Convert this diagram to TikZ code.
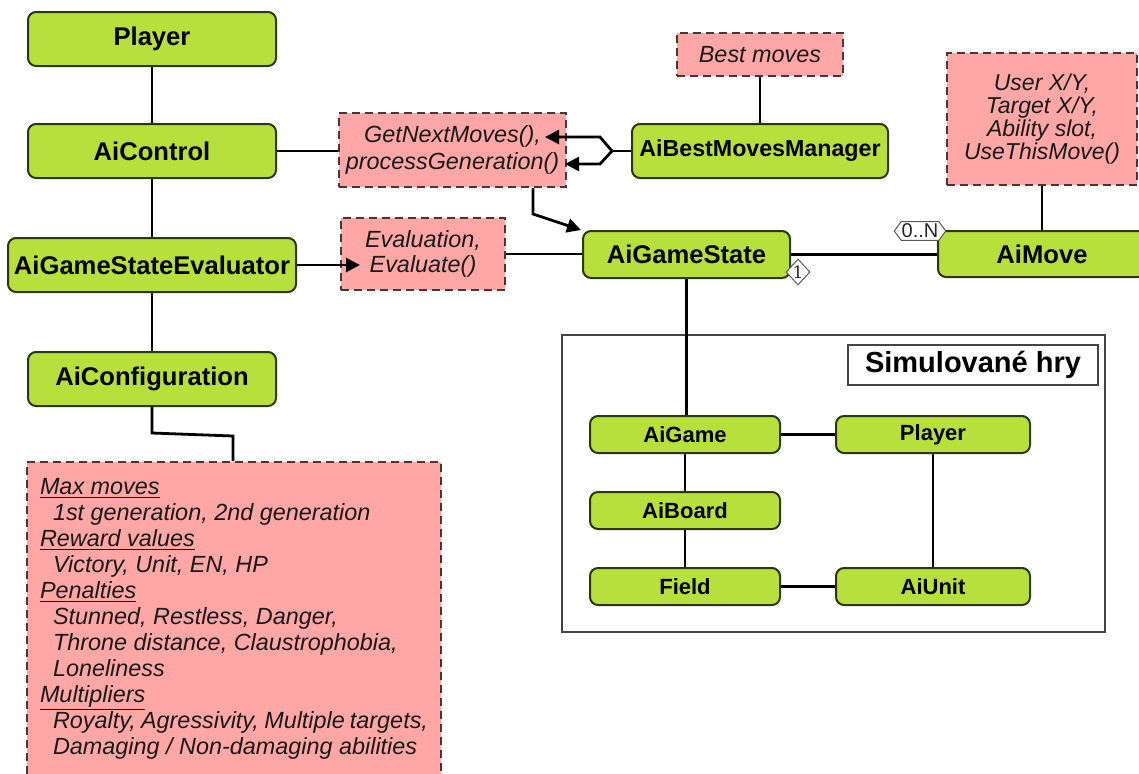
\documentclass[tikz,border=0pt]{standalone}
\usepackage{fontspec}
\setmainfont{Liberation Sans}
\newfontfamily\serifone{DejaVu Serif}
\usetikzlibrary{arrows.meta,shapes.geometric,calc}
\definecolor{gfill}{HTML}{B8E03C}
\definecolor{gline}{HTML}{2C3612}
\definecolor{pfill}{HTML}{FFA6A6}
\definecolor{pline}{HTML}{4A3434}
\definecolor{frameline}{HTML}{444444}
\tikzset{
  gbox/.style={draw=gline, fill=gfill, line width=1pt, rounded corners=4pt, inner sep=0pt,
    font=\bfseries\fontsize{12.8}{15}\selectfont},
  gsmall/.style={gbox, font=\bfseries\fontsize{11}{13}\selectfont},
  pbox/.style={draw=pline, fill=pfill, line width=1pt, dash pattern=on 4pt off 2.5pt,
    inner sep=0pt, align=center, text=black!90, font=\itshape\fontsize{11.7}{12.6}\selectfont},
  conn/.style={line width=1.4pt, black, line join=miter},
  arr/.style={-{Triangle[length=7pt,width=7pt]}},
}
\begin{document}
\begin{tikzpicture}[x=0.5pt,y=-0.5pt]
\useasboundingbox (0,0) rectangle (1139,773);
\clip (0,0) rectangle (1139,773);

% left column
\node[gbox, minimum width=124pt, minimum height=27pt] (player) at (152,39) {Player};
\node[gbox, minimum width=124pt, minimum height=27pt] (aicontrol) at (152,151) {AiControl};
\node[gbox, minimum width=144pt, minimum height=27pt] (evaluator) at (152,265) {AiGameStateEvaluator};
\node[gbox, minimum width=124pt, minimum height=27pt] (config) at (152,379) {AiConfiguration};

% config note
\node[pbox, anchor=north west, minimum width=207pt, minimum height=175pt, inner xsep=6.5pt, inner ysep=8pt, align=left] (cfg) at (26,461)
 {\parbox[t][159pt][t]{194pt}{\fontsize{11.7}{13}\selectfont
  \underline{Max moves}\\
  \hspace*{6.5pt}1st generation, 2nd generation\\
  \underline{Reward values}\\
  \hspace*{6.5pt}Victory, Unit, EN, HP\\
  \underline{Penalties}\\
  \hspace*{6.5pt}Stunned, Restless, Danger,\\
  \hspace*{6.5pt}Throne distance, Claustrophobia,\\
  \hspace*{6.5pt}Loneliness\\
  \underline{Multipliers}\\
  \hspace*{6.5pt}Royalty, Agressivity, Multiple targets,\\
  \hspace*{6.5pt}Damaging / Non-damaging abilities}};

% middle notes
\node[pbox, minimum width=113.5pt, minimum height=37pt, font=\itshape\fontsize{11.7}{13.5}\selectfont] (gnm) at (452.5,150) {GetNextMoves(),\\processGeneration()};
\node[pbox, minimum width=82pt, minimum height=36pt] (evalbox) at (423,254) {Evaluation,\\Evaluate()};

% game state & manager
\node[gbox, minimum width=103.5pt, minimum height=23.5pt] (gs) at (686.5,254.5) {AiGameState};
\node[gbox, font=\bfseries\fontsize{11.6}{14}\selectfont, minimum width=128pt, minimum height=27pt] (mgr) at (760,151) {AiBestMovesManager};
\node[pbox, minimum width=83pt, minimum height=21.5pt] (best) at (760,54.5) {Best moves};

% move
\node[pbox, minimum width=95pt, minimum height=66pt, font=\itshape\fontsize{11.5}{11.6}\selectfont] (moveattrs) at (1042,119) {User X/Y,\\Target X/Y,\\Ability slot,\\UseThisMove()};
\node[gbox, minimum width=104pt, minimum height=23pt] (aimove) at (1042,254) {AiMove};

% simulated games frame
\node[draw=frameline, line width=0.8pt, minimum width=271.5pt, minimum height=148.5pt, inner sep=0pt] (frame) at (833.5,483.5) {};
\node[draw=frameline, fill=white, line width=0.7pt, minimum width=125pt, minimum height=20pt, inner sep=0pt,
  font=\bfseries\fontsize{14.5}{17}\selectfont] (simlabel) at (973,365) {Simulované hry};
\node[gsmall, minimum width=95pt, minimum height=18.5pt] (aigame) at (685,434.5) {AiGame};
\node[gsmall, minimum width=97pt, minimum height=18.5pt] (splayer) at (933,434.5) {Player};
\node[gsmall, minimum width=95pt, minimum height=18.5pt] (aiboard) at (685,510.5) {AiBoard};
\node[gsmall, minimum width=95pt, minimum height=18.5pt] (field) at (685,586.5) {Field};
\node[gsmall, minimum width=97pt, minimum height=18.5pt] (aiunit) at (933,586.5) {AiUnit};

% connectors left column
\draw[conn] (player) -- (aicontrol);
\draw[conn] (aicontrol) -- (evaluator);
\draw[conn] (evaluator) -- (config);
\draw[conn] (config.south) -- ++(0,26) -- ($(cfg.north)+(-1,-25)$) -- ($(cfg.north)+(-1,0)$);

\draw[conn] (aicontrol.east) -- (aicontrol.east -| gnm.west);
\coordinate (evaltip) at (360,265);
\draw[conn, arr] (evaluator.east) -- (evaltip);
\draw[conn] (evalbox.east) -- (evalbox.east -| gs.west);

% best moves manager
\draw[conn] (best) -- (mgr);
\coordinate (tipA) at (545,137);
\coordinate (tipB) at (565,164);
\draw[conn] (mgr.west) -- ++(-19,0) coordinate (fork);
\draw[conn, arr] (fork) -- (600,137) -- (tipA);
\draw[conn, arr] (fork) -- (600,164) -- (tipB);

% gnm -> game state
\draw[conn, arr] ($(gnm.south)+(80.5,0)$) -- ++(0,26) -- ($(gs.north west)+(-1,0)$);

% game state -> move
\draw[conn] (gs.east) -- (gs.east -| aimove.west);
\draw[conn] (moveattrs) -- (aimove);

% game state -> simulated
\draw[conn] (gs.south) -- (gs.south |- aigame.north);
\draw[conn] (aigame) -- (splayer);
\draw[conn] (aigame) -- (aiboard);
\draw[conn] (aiboard) -- (field);
\draw[conn] (field) -- (aiunit);
\draw[conn] (splayer) -- (aiunit);

% multiplicities
\path node[inner xsep=1.5pt, inner ysep=1pt, font=\fontsize{10}{11}\selectfont] (multbox) at (920,231) {\phantom{0..N}};
\draw[gray!70!black, line width=0.5pt, fill=white] ($(multbox.west)+(-4,0)$) -- ($(multbox.north west)+(3,0)$) -- ($(multbox.north east)+(-3,0)$) -- ($(multbox.east)+(4,0)$) -- ($(multbox.south east)+(-3,0)$) -- ($(multbox.south west)+(3,0)$) -- cycle;
\node[font=\fontsize{10}{11}\selectfont, text=black!85] (mult) at (multbox) {0..N};
\node[diamond, draw=gray!70!black, line width=0.5pt, fill=white, inner sep=0pt, minimum width=12pt, minimum height=13pt,
  font=\serifone\fontsize{8.5}{9}\selectfont, text=black!85] (one) at (798,272) {1};
\end{tikzpicture}
\end{document}
